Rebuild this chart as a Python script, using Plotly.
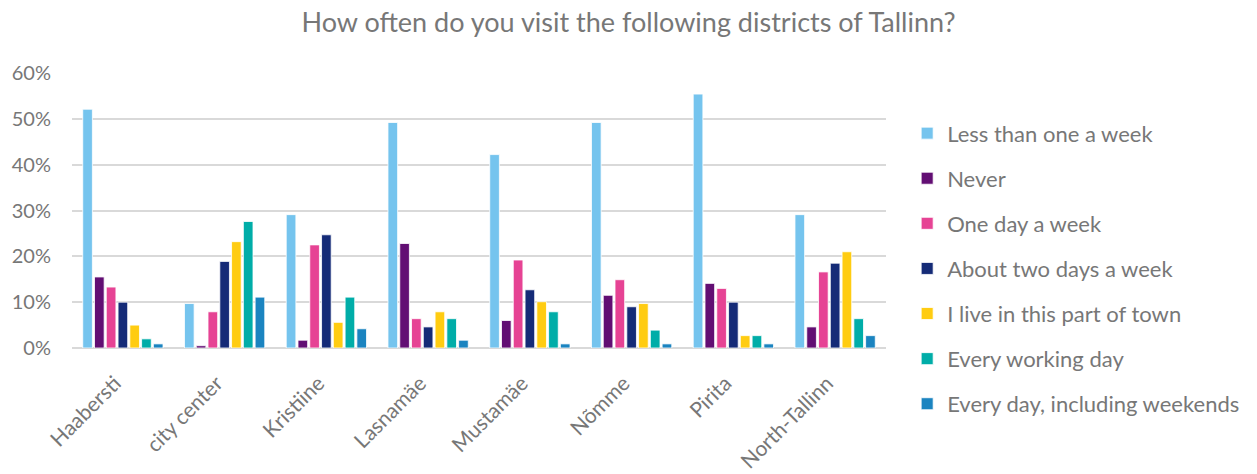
import plotly.graph_objects as go

districts = ["Haabersti", "city center", "Kristiine", "Lasnamäe", "Mustamäe", "Nõmme", "Pirita", "North-Tallinn"]

less_than_one_a_week = [52.1, 9.7, 29.1, 49.2, 42.2, 49.2, 55.4, 29.1]
never = [15.5, 0.5, 1.7, 22.8, 6.0, 11.5, 14.1, 4.6]
one_day_a_week = [13.3, 7.9, 22.5, 6.4, 19.2, 14.9, 13.0, 16.6]
about_two_days_a_week = [10.0, 18.9, 24.7, 4.6, 12.7, 9.0, 10.0, 18.5]
live_in_this_part = [5.0, 23.2, 5.6, 7.9, 10.1, 9.7, 2.7, 21.0]
every_working_day = [2.0, 27.6, 11.1, 6.4, 7.9, 3.9, 2.7, 6.4]
every_day_incl_weekends = [0.9, 11.1, 4.2, 1.7, 0.9, 0.9, 0.9, 2.7]

series = [
    ("Less than one a week", less_than_one_a_week, "#75C4EE"),
    ("Never", never, "#620E73"),
    ("One day a week", one_day_a_week, "#E64394"),
    ("About two days a week", about_two_days_a_week, "#152B77"),
    ("I live in this part of town", live_in_this_part, "#FFCC11"),
    ("Every working day", every_working_day, "#00ADA8"),
    ("Every day, including weekends", every_day_incl_weekends, "#1B84C0"),
]

FONT = "Lato"
TEXT = "#777777"

fig = go.Figure()
for i, (name, vals, color) in enumerate(series):
    fig.add_trace(go.Bar(
        x=districts, y=vals, name=name, legendgroup=f"g{i}",
        marker=dict(color=color, line=dict(color="white", width=0.8)),
    ))

fig.update_layout(
    width=1257, height=474,
    margin=dict(l=72, r=371, t=73, b=126, autoexpand=False),
    paper_bgcolor="white", plot_bgcolor="white",
    font=dict(family=FONT, color=TEXT, size=20),
    title=dict(text="How often do you visit the following districts of Tallinn?",
               x=0.5, xref="container", xanchor="center", y=0.953, yanchor="middle",
               font=dict(size=27, color=TEXT, family=FONT)),
    barmode="group", bargap=0.19, bargroupgap=0.18,
    showlegend=True,
    legend=dict(x=1.026, xanchor="left", y=0.857, yanchor="top",
                traceorder="grouped", tracegroupgap=13.5, maxheight=420,
                font=dict(size=22, color=TEXT, family=FONT),
                itemwidth=30),
)
fig.update_yaxes(range=[0, 60], dtick=10, ticksuffix="%", showgrid=True,
                 gridcolor="#D9D9D9", gridwidth=1.5, zeroline=True,
                 zerolinecolor="#D9D9D9", zerolinewidth=1.5, automargin=False,
                 ticklabelstandoff=20, tickfont=dict(size=20, color=TEXT))
fig.update_xaxes(tickangle=-45, showline=False, tickfont=dict(size=21, color=TEXT),
                 automargin=False, ticklabelstandoff=18, ticklabelshift=-8)

fig.write_html("out.html")
